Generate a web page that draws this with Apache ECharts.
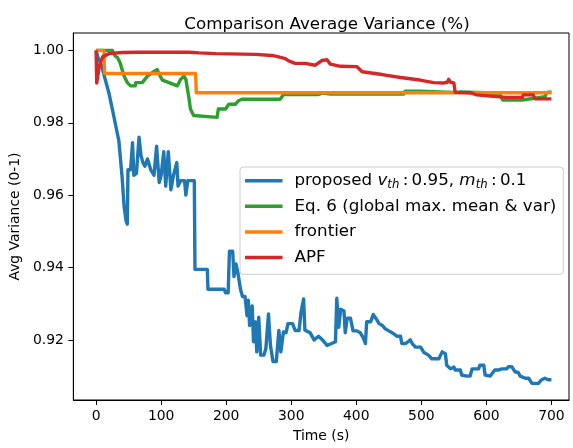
<!DOCTYPE html>
<html>
<head>
<meta charset="utf-8">
<script src="https://cdn.jsdelivr.net/npm/echarts@6/dist/echarts.min.js"></script>
<style>
  html, body { margin: 0; padding: 0; background: #fff; }
  #chart { width: 573px; height: 448px; }
</style>
</head>
<body>
<div id="chart"></div>
<script>
// tick labels
const xTicks = [0, 100, 200, 300, 400, 500, 600, 700];
const yTicks = [0.92, 0.94, 0.96, 0.98, 1.00];

// proposed v_th : 0.95, m_th : 0.1
const propTime = [0, 3, 8, 14, 20, 27, 35, 40, 43, 46, 48, 49, 53, 56, 58, 62, 66, 69, 72, 75, 79, 84, 89, 93, 97, 100,
  104, 107, 111, 115, 119, 124, 126, 130, 136, 138, 141, 151, 152, 171, 172, 197, 199, 203, 205, 210, 212, 215, 218,
  222, 225, 229, 232, 234, 236, 240, 242, 245, 247, 250, 253, 258, 261, 265, 268, 272, 277, 281, 284, 288, 292, 295,
  302, 306, 312, 315, 319, 321, 329, 335, 342, 348, 355, 362, 368, 370, 373, 376, 381, 383, 386, 391, 395, 401, 406,
  411, 414, 416, 422, 426, 430, 435, 440, 445, 450, 455, 463, 468, 470, 476, 483, 486, 491, 499, 504, 511, 516, 527,
  532, 537, 539, 545, 550, 552, 560, 562, 570, 575, 578, 588, 590, 596, 598, 606, 613, 619, 624, 631, 634, 639, 644,
  649, 652, 660, 665, 670, 680, 685, 690, 695, 700];
const propVar = [1.000, 0.998, 0.996, 0.992, 0.988, 0.982, 0.975, 0.965, 0.957, 0.953, 0.952, 0.967, 0.967, 0.9745,
  0.9655, 0.966, 0.976, 0.971, 0.969, 0.968, 0.970, 0.967, 0.9655, 0.9735, 0.9635, 0.9655, 0.972, 0.9625, 0.972,
  0.9615, 0.9655, 0.969, 0.9625, 0.964, 0.964, 0.960, 0.964, 0.964, 0.9395, 0.9395, 0.934, 0.934, 0.933, 0.933,
  0.9445, 0.9445, 0.9375, 0.941, 0.9385, 0.934, 0.932, 0.932, 0.9267, 0.931, 0.924, 0.9294, 0.9195, 0.925, 0.9167,
  0.9263, 0.9158, 0.9158, 0.9176, 0.9272, 0.9185, 0.914, 0.914, 0.9226, 0.9167, 0.9222, 0.922, 0.9245, 0.9245,
  0.9226, 0.9226, 0.9276, 0.9313, 0.9227, 0.922, 0.920, 0.921, 0.920, 0.9185, 0.919, 0.9195, 0.9315, 0.9235, 0.9285,
  0.928, 0.922, 0.926, 0.926, 0.9225, 0.9225, 0.922, 0.9205, 0.919, 0.925, 0.925, 0.927, 0.926, 0.9245, 0.924, 0.923,
  0.9225, 0.922, 0.921, 0.921, 0.919, 0.919, 0.920, 0.919, 0.918, 0.918, 0.9165, 0.9158, 0.9148, 0.9148, 0.9167,
  0.9162, 0.913, 0.912, 0.9125, 0.9117, 0.9117, 0.9103, 0.910, 0.910, 0.912, 0.912, 0.913, 0.913, 0.9103, 0.910,
  0.9117, 0.9117, 0.912, 0.912, 0.9126, 0.9126, 0.9112, 0.911, 0.910, 0.9094, 0.9094, 0.908, 0.908, 0.909, 0.9094,
  0.909, 0.909];

// Eq. 6 (global max. mean & var)
const eqTime = [0, 25, 29, 33, 37, 40, 43, 48, 53, 60, 61, 71, 75, 79, 86, 94, 97, 102, 112, 125, 130, 135, 138,
  143, 145, 150, 186, 188, 199, 204, 214, 219, 224, 283, 288, 342, 348, 360, 473, 475, 497, 500, 550, 560, 600, 620,
  625, 655, 658, 690, 693, 700];
const eqVar = [1.000, 1.000, 0.9985, 0.998, 0.9965, 0.9947, 0.9929, 0.9911, 0.9902, 0.9902, 0.9911, 0.9911, 0.992,
  0.9929, 0.9938, 0.9947, 0.9934, 0.9918, 0.9911, 0.9902, 0.992, 0.9929, 0.992, 0.9865, 0.9838, 0.982, 0.9815,
  0.9838, 0.9838, 0.9851, 0.9851, 0.9861, 0.9865, 0.9865, 0.9878, 0.9878, 0.9882, 0.9879, 0.9879, 0.9887, 0.9887,
  0.9884, 0.9884, 0.9885, 0.9883, 0.988, 0.9863, 0.9863, 0.9868, 0.9872, 0.9884, 0.9885];

// frontier
const frontTime = [0, 12, 13, 153, 154, 700];
const frontVar = [1.000, 1.000, 0.9936, 0.9936, 0.9883, 0.9883];

// APF
const apfTime = [0, 1, 3, 5, 10, 20, 40, 66, 143, 158, 184, 245, 270, 276, 291, 296, 306, 321, 337, 347, 355, 360,
  376, 401, 409, 437, 447, 468, 498, 519, 535, 540, 542, 545, 550, 552, 575, 585, 611, 631, 655, 657, 672, 675, 700];
const apfVar = [1.000, 0.991, 0.9905, 0.9957, 0.9982, 0.9991, 0.9994, 0.9995, 0.9995, 0.9993, 0.9991, 0.9989,
  0.9986, 0.9984, 0.9977, 0.9971, 0.9964, 0.9964, 0.9959, 0.9972, 0.9974, 0.9962, 0.9956, 0.9955, 0.9941, 0.9934,
  0.9931, 0.9925, 0.9918, 0.9911, 0.991, 0.9912, 0.992, 0.9912, 0.991, 0.9884, 0.9883, 0.9877, 0.9873, 0.987, 0.987,
  0.9877, 0.9877, 0.9866, 0.9866];

const seriesNames = ['proposed', 'eq6', 'frontier', 'APF'];
const seriesColors = ['#1f77b4', '#2ca02c', '#ff7f0e', '#d62728'];
const legendRich = {
  proposed: '{p|proposed }{i|v}{s|th}{a|\u2009:\u20090.95, }{i|m}{s|th}{a|\u2009:\u20090.1}',
  eq6: '{p|Eq. 6 (global max. mean & var)}',
  frontier: '{p|frontier}',
  APF: '{p|APF}'
};

const zip = (xs, ys) => xs.map((x, i) => [x, ys[i]]);
const seriesData = [
  zip(propTime, propVar),
  zip(eqTime, eqVar),
  zip(frontTime, frontVar),
  zip(apfTime, apfVar)
];

const font = 'DejaVu Sans';
const chart = echarts.init(document.getElementById('chart'));
chart.setOption({
  animation: false,
  backgroundColor: '#fff',
  title: {
    text: 'Comparison Average Variance (%)',
    left: 322,
    top: 11,
    textAlign: 'center',
    textStyle: { fontFamily: font, fontSize: 16.7, fontWeight: 'normal', color: '#000' }
  },
  grid: {
    left: 73,
    right: 4,
    top: 33,
    bottom: 42,
    show: true,
    borderColor: '#000',
    borderWidth: 1
  },
  legend: {
    orient: 'vertical',
    left: 240,
    top: 167,
    padding: [4, 7, 7, 5],
    itemWidth: 37.5,
    itemHeight: 3.5,
    itemGap: 6.1,
    icon: 'rect',
    backgroundColor: 'rgba(255,255,255,0.8)',
    borderColor: '#cccccc',
    borderWidth: 1,
    borderRadius: 3,
    data: seriesNames,
    formatter: name => legendRich[name],
    textStyle: {
      fontFamily: font,
      fontSize: 16.7,
      color: '#000',
      lineHeight: 19.5,
      rich: {
        p: { fontFamily: font, fontSize: 16.7, color: '#000', lineHeight: 19.5, padding: [0, 0, 0, 7] },
        a: { fontFamily: font, fontSize: 16.7, color: '#000', lineHeight: 19.5 },
        i: { fontFamily: font, fontSize: 16.7, fontStyle: 'italic', color: '#000', lineHeight: 19.5 },
        s: { fontFamily: font, fontSize: 11.7, fontStyle: 'italic', color: '#000', lineHeight: 11, verticalAlign: 'bottom' }
      }
    }
  },
  xAxis: {
    type: 'value',
    min: -35,
    max: 727,
    name: 'Time (s)',
    nameLocation: 'middle',
    nameGap: 29,
    nameTextStyle: { fontFamily: font, fontSize: 13.9, color: '#000' },
    splitLine: { show: false },
    axisLine: { show: true, onZero: false, lineStyle: { color: '#000', width: 1 } },
    axisTick: { show: true, length: 5, customValues: xTicks, lineStyle: { color: '#000' } },
    axisLabel: { customValues: xTicks, margin: 9, fontFamily: font, fontSize: 13.9, color: '#000' }
  },
  yAxis: {
    type: 'value',
    min: 0.9034,
    max: 1.0048,
    name: 'Avg Variance (0-1)',
    nameLocation: 'middle',
    nameGap: 47.5,
    nameTextStyle: { fontFamily: font, fontSize: 13.9, color: '#000' },
    splitLine: { show: false },
    axisLine: { show: true, onZero: false, lineStyle: { color: '#000', width: 1 } },
    axisTick: { show: true, length: 5, customValues: yTicks, lineStyle: { color: '#000' } },
    axisLabel: {
      customValues: yTicks,
      margin: 9.5,
      fontFamily: font,
      fontSize: 13.9,
      color: '#000',
      formatter: v => v.toFixed(2)
    }
  },
  series: seriesNames.map((name, i) => ({
    name,
    type: 'line',
    data: seriesData[i],
    showSymbol: false,
    color: seriesColors[i],
    lineStyle: { width: 3.4, color: seriesColors[i], join: 'round' },
    z: 2 + i
  }))
});
</script>
</body>
</html>
